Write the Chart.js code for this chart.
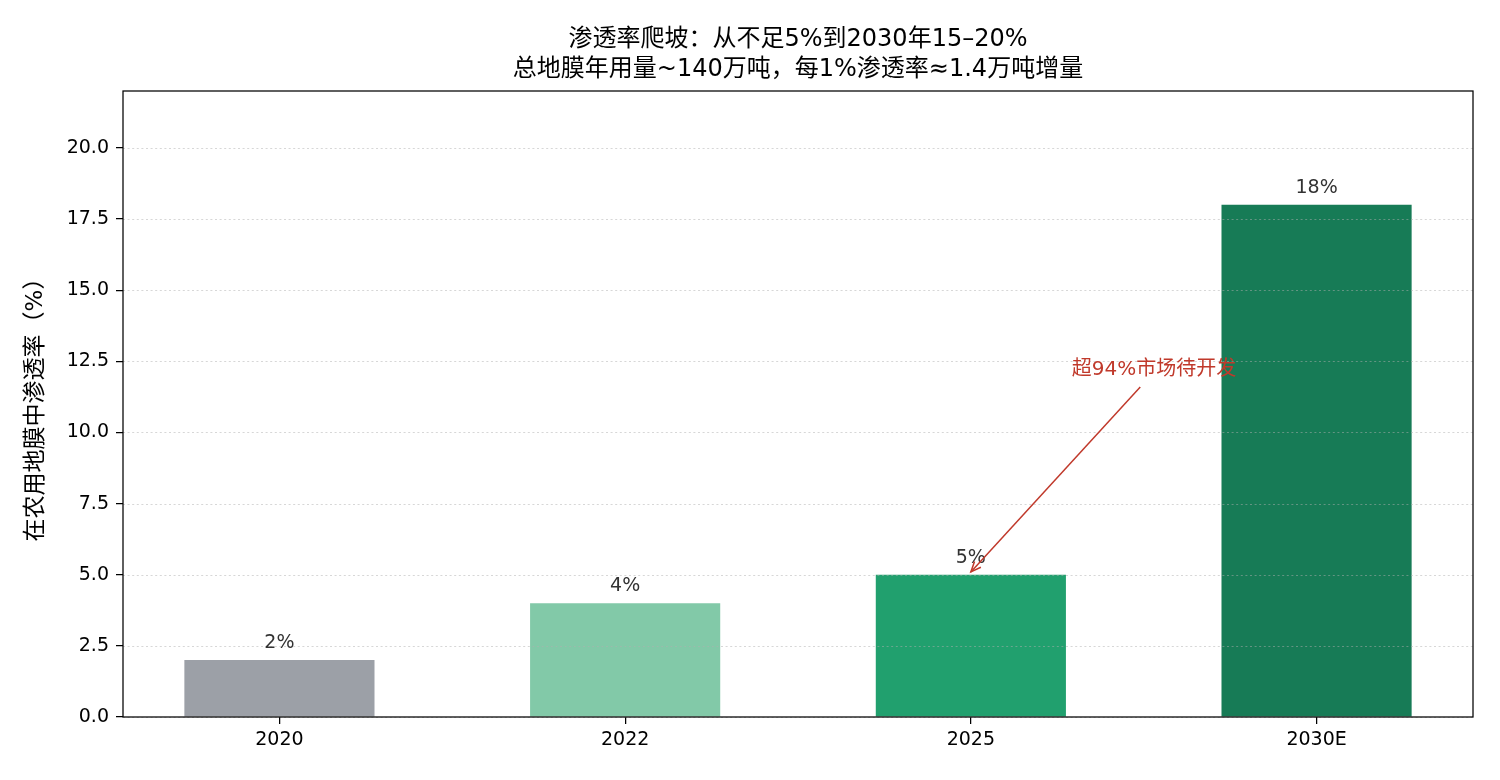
<!DOCTYPE html>
<html>
<head>
<meta charset="utf-8">
<script src="https://cdn.jsdelivr.net/npm/chart.js@4/dist/chart.umd.min.js"></script>
<style>
html,body{margin:0;padding:0;background:#fff;}
#wrap{width:1500px;height:780px;}
</style>
</head>
<body>
<div id="wrap"><canvas id="c" width="1500" height="780"></canvas></div>
<script>
// ---- data ----
const categories = ['2020', '2022', '2025', '2030E'];
const penetration = [2, 4, 5, 18];
const valueLabels = ['2%', '4%', '5%', '18%'];
const barColors = ['#9ca0a7', '#82c9a8', '#21a06e', '#177b56'];
const yTicks = [0, 2.5, 5, 7.5, 10, 12.5, 15, 17.5, 20];
const titleLines = ['渗透率爬坡：从不足5%到2030年15–20%', '总地膜年用量~140万吨，每1%渗透率≈1.4万吨增量'];
const yTitle = '在农用地膜中渗透率（%）';
const annoText = '超94%市场待开发';
const annoTextPos = [2.53, 12.2];
const annoArrowFrom = [2.49, 11.6];
const annoArrowTo = [2.0, 5.1];

const FONT = '"DejaVu Sans", "Noto Sans CJK SC", sans-serif';

const overlay = {
  id: 'overlay',
  beforeDraw(chart) {
    const {ctx, chartArea: a} = chart;
    ctx.save();
    ctx.fillStyle = '#000';
    ctx.font = '24px ' + FONT;
    ctx.textAlign = 'center';
    ctx.textBaseline = 'middle';
    const cx = (a.left + a.right) / 2;
    ctx.fillText(titleLines[0], cx, 40);
    ctx.fillText(titleLines[1], cx, 70);
    ctx.restore();
  },
  afterDatasetsDraw(chart) {
    const {ctx, chartArea: a, scales: {x, y}} = chart;
    // dotted grid on top of bars
    ctx.save();
    ctx.strokeStyle = 'rgba(176,176,176,0.5)';
    ctx.lineWidth = 1;
    ctx.setLineDash([2, 2.6]);
    yTicks.forEach(v => {
      const py = Math.round(y.getPixelForValue(v)) + 0.5;
      ctx.beginPath();
      ctx.moveTo(a.left, py);
      ctx.lineTo(a.right, py);
      ctx.stroke();
    });
    ctx.restore();
    // value labels
    ctx.save();
    ctx.fillStyle = '#333333';
    ctx.font = '19px ' + FONT;
    ctx.textAlign = 'center';
    ctx.textBaseline = 'alphabetic';
    chart.getDatasetMeta(0).data.forEach((bar, i) => {
      ctx.fillText(valueLabels[i], bar.x, bar.y - 12);
    });
    ctx.restore();
    // annotation
    ctx.save();
    ctx.strokeStyle = '#c0392b';
    ctx.fillStyle = '#c0392b';
    ctx.lineWidth = 1.5;
    const x0 = x.getPixelForValue(annoArrowFrom[0]), y0 = y.getPixelForValue(annoArrowFrom[1]);
    const x1 = x.getPixelForValue(annoArrowTo[0]), y1 = y.getPixelForValue(annoArrowTo[1]);
    ctx.beginPath();
    ctx.moveTo(x0, y0);
    ctx.lineTo(x1, y1);
    ctx.stroke();
    const ang = Math.atan2(y1 - y0, x1 - x0);
    const hl = 11, hw = 0.4;
    ctx.beginPath();
    ctx.moveTo(x1 - hl * Math.cos(ang - hw), y1 - hl * Math.sin(ang - hw));
    ctx.lineTo(x1, y1);
    ctx.lineTo(x1 - hl * Math.cos(ang + hw), y1 - hl * Math.sin(ang + hw));
    ctx.stroke();
    ctx.font = '20px ' + FONT;
    ctx.textAlign = 'center';
    ctx.textBaseline = 'middle';
    ctx.fillText(annoText, x.getPixelForValue(annoTextPos[0]), y.getPixelForValue(annoTextPos[1]));
    ctx.restore();
  },
  afterDraw(chart) {
    const {ctx, chartArea: a} = chart;
    ctx.save();
    ctx.strokeStyle = '#000';
    ctx.lineWidth = 1.25;
    ctx.strokeRect(a.left, a.top, a.right - a.left, a.bottom - a.top);
    ctx.restore();
  }
};

new Chart(document.getElementById('c'), {
  type: 'bar',
  data: {
    datasets: [{
      data: penetration.map((v, i) => ({x: i, y: v})),
      backgroundColor: barColors,
      borderWidth: 0,
      barPercentage: 0.55,
      categoryPercentage: 1.0
    }]
  },
  options: {
    responsive: false,
    animation: false,
    layout: {padding: {left: 0, right: 27, top: 91, bottom: 0}},
    plugins: {
      legend: {display: false},
      tooltip: {enabled: false},
      title: {display: false}
    },
    scales: {
      x: {
        type: 'linear',
        min: -0.4525,
        max: 3.4525,
        offset: false,
        afterBuildTicks: s => { s.ticks = categories.map((c, i) => ({value: i})); },
        afterFit: s => { s.height = 63; },
        ticks: {
          color: '#000',
          font: {family: FONT, size: 19},
          padding: 5,
          maxRotation: 0,
          autoSkip: false,
          callback: v => categories[v]
        },
        grid: {drawOnChartArea: false, drawTicks: true, tickLength: 7, tickColor: '#000', lineWidth: 1.25, offset: false},
        border: {display: false}
      },
      y: {
        min: 0,
        max: 22,
        afterBuildTicks: s => { s.ticks = yTicks.map(v => ({value: v})); },
        afterFit: s => { s.width = 123; },
        ticks: {
          color: '#000',
          font: {family: FONT, size: 19},
          padding: 7,
          callback: v => v.toFixed(1)
        },
        grid: {drawOnChartArea: false, drawTicks: true, tickLength: 7, tickColor: '#000', lineWidth: 1.25},
        border: {display: false},
        title: {
          display: true,
          text: yTitle,
          color: '#000',
          font: {family: FONT, size: 23},
          padding: {top: 22, bottom: 0}
        }
      }
    }
  },
  plugins: [overlay]
});
</script>
</body>
</html>
